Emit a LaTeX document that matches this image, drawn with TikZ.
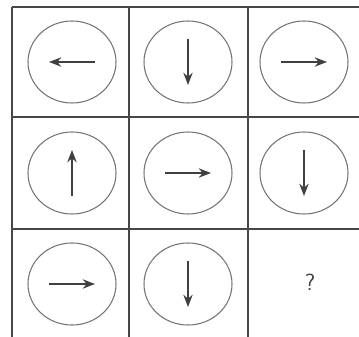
\documentclass[tikz,border=0pt]{standalone}
\usepackage{tikz}
\usetikzlibrary{arrows.meta, calc}
\colorlet{gridcolor}{black!72}
\colorlet{ringcolor}{black!55}
\colorlet{arrowcolor}{black!75}

\begin{document}
\begin{tikzpicture}[>={Stealth[length=10.5pt, width=8pt]}, x=0.03cm, y=-0.03cm]

  \useasboundingbox (0,0) rectangle (359,337);
  \fill[white] (0,0) rectangle (359,337);

  % grid lines, right and bottom edges run off the page
  \foreach \x in {12,129,248} {
    \draw[gridcolor, line width=1.2pt] (\x,7) -- (\x,337);
  }
  \foreach \y in {7,117,229} {
    \draw[gridcolor, line width=1.2pt] (12,\y) -- (359,\y);
  }

  % rings
  \foreach \name/\x/\y in {c11/72/62, c12/188/62, c13/304/62,
                           c21/72/173, c22/188/173, c23/304/173,
                           c31/72/284, c32/188/284} {
    \coordinate (\name) at (\x,\y);
    \draw[ringcolor, line width=0.9pt] (\name) ellipse [x radius=44, y radius=41];
  }

  % arrows (0 right, 90 down, 180 left, 270 up)
  \foreach \name/\a in {c11/180, c12/90, c13/0,
                        c21/270, c22/0, c23/90,
                        c31/0, c32/90} {
    \draw[arrowcolor, line width=1.2pt, ->]
      ($(\name)+(\a+180:23)$) -- ($(\name)+(\a:23)$);
  }

  \node[arrowcolor, font=\sffamily\fontsize{20}{24}\selectfont] (q) at (310,282) {?};

\end{tikzpicture}
\end{document}
